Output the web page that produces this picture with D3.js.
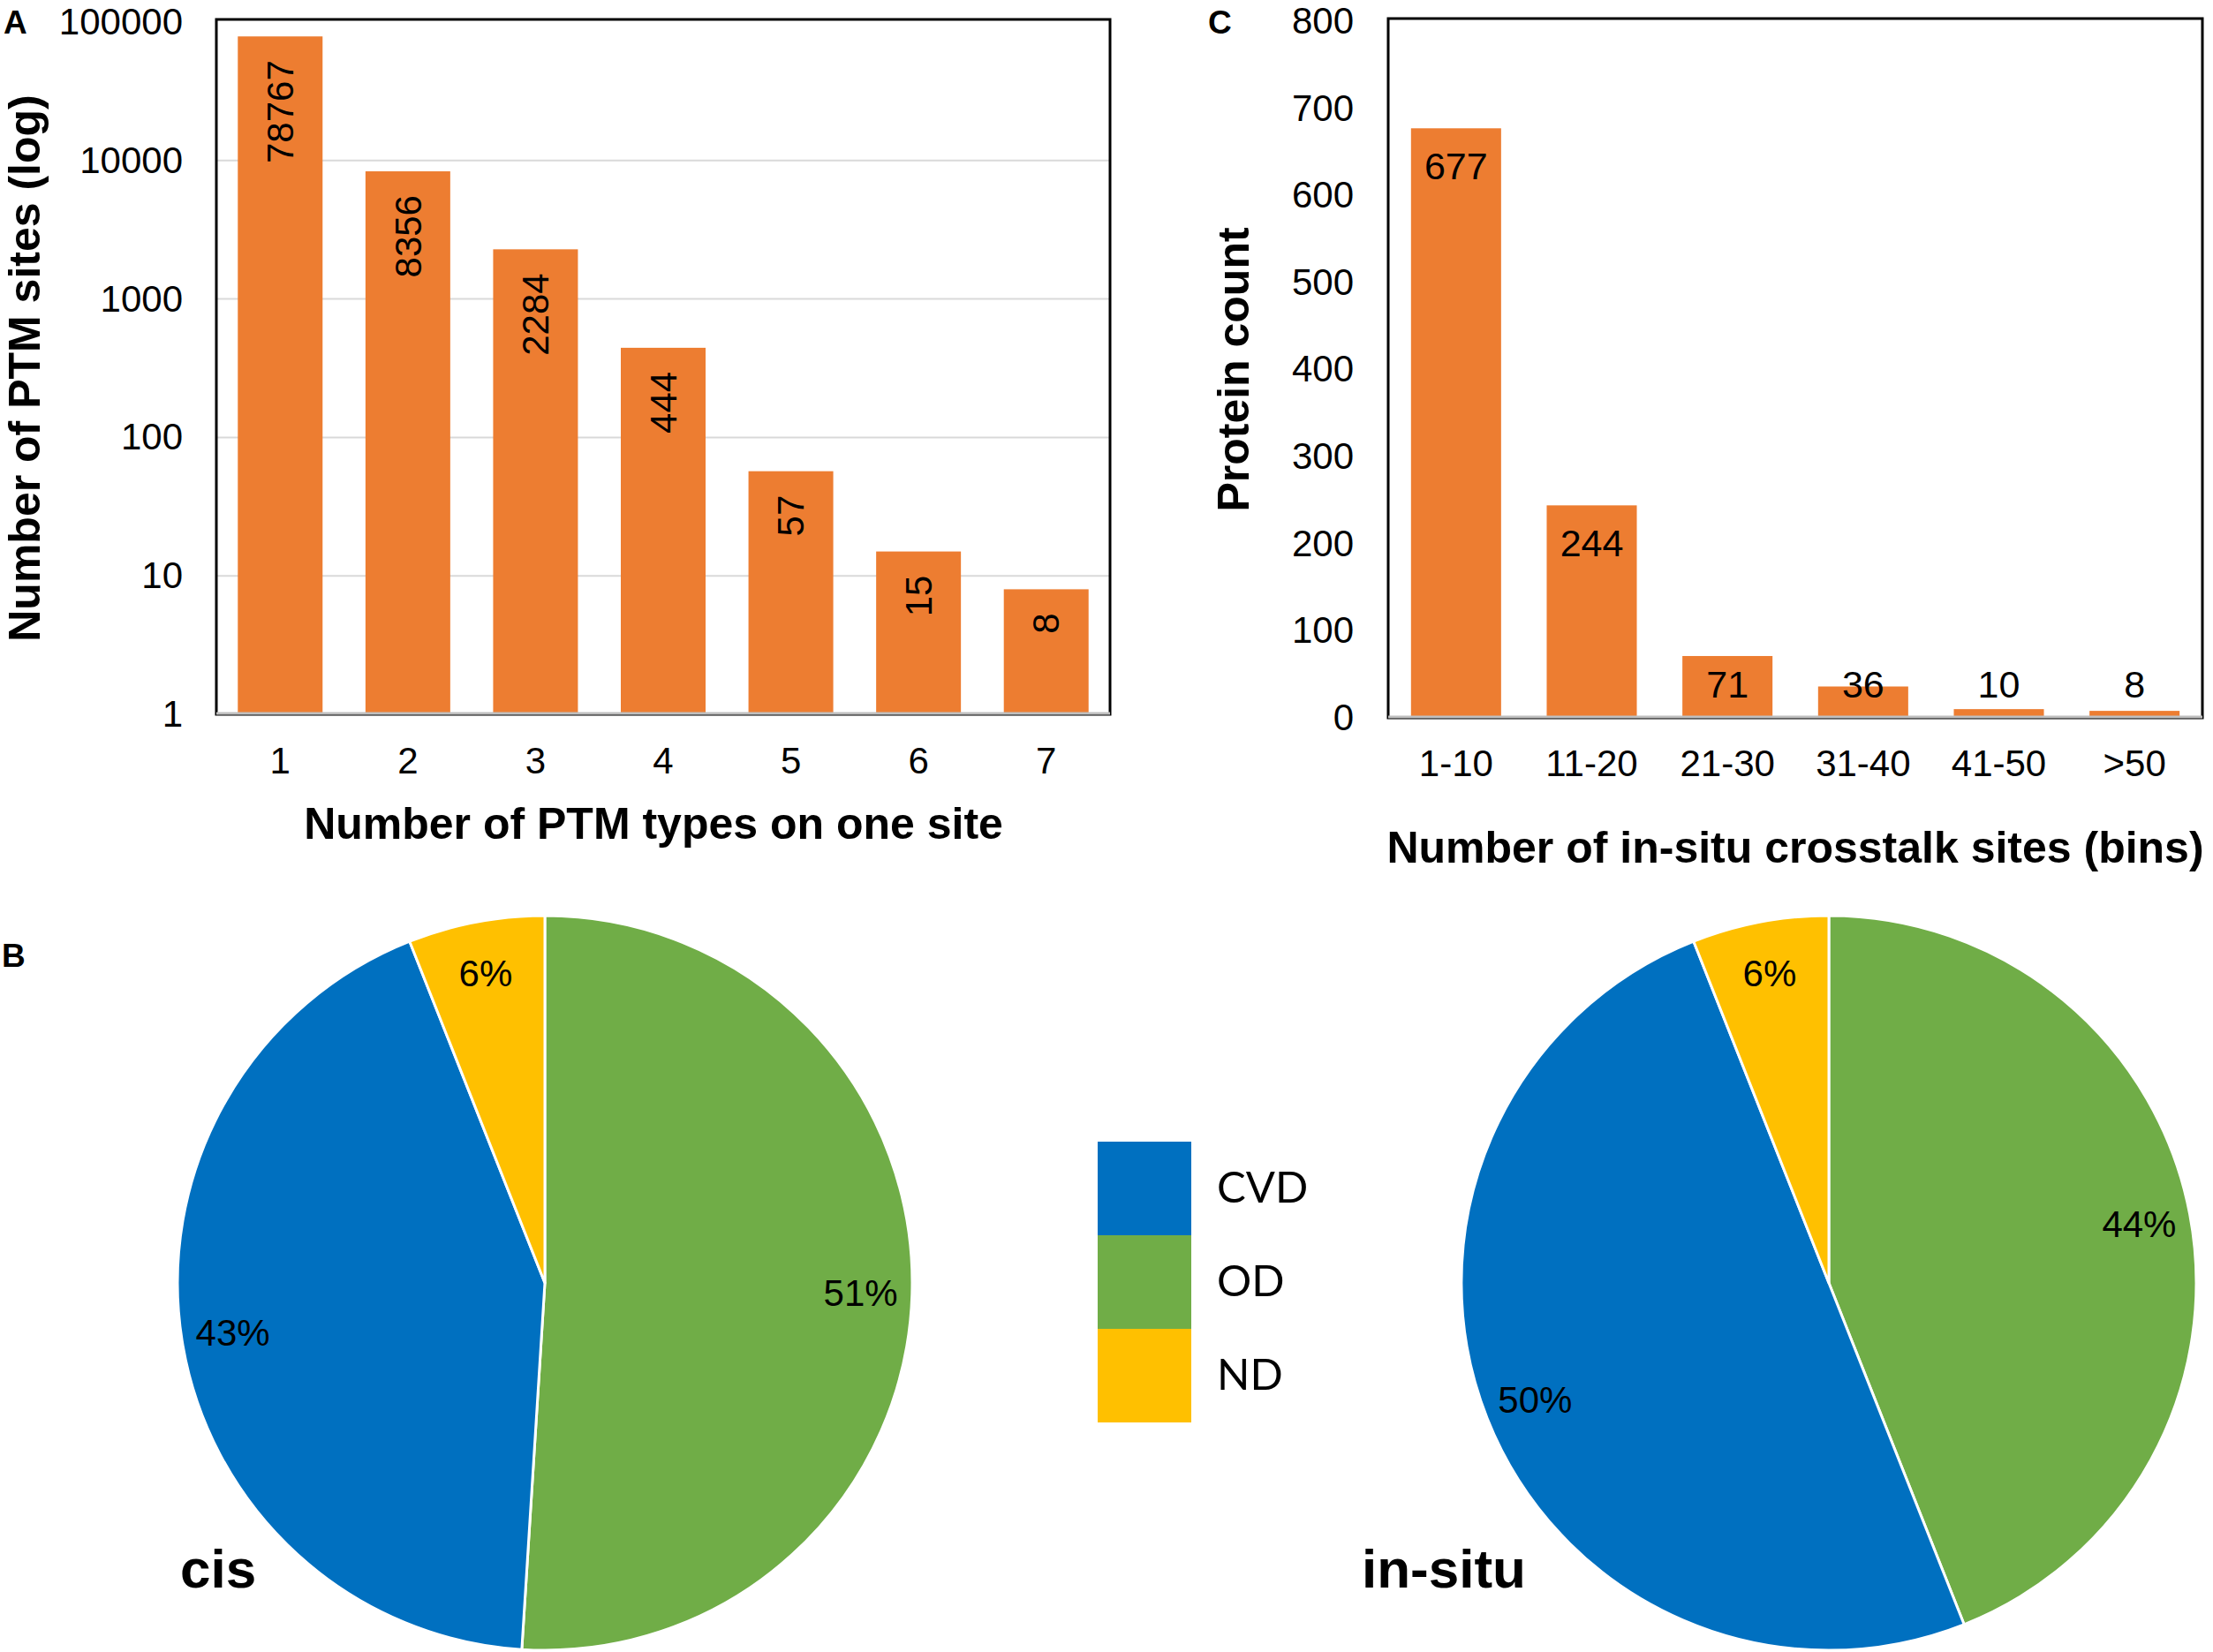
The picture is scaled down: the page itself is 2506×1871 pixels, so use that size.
<!DOCTYPE html>
<html>
<head>
<meta charset="utf-8">
<script src="https://cdn.jsdelivr.net/npm/d3@7"></script>
<style>
  html, body { margin: 0; padding: 0; background: #fff; }
  svg { display: block; }
</style>
</head>
<body>
<div id="chart"></div>
<script>
// Panel A: PTM types per site (log scale)
const ptmTypes = ["1", "2", "3", "4", "5", "6", "7"];
const ptmSites = [78767, 8356, 2284, 444, 57, 15, 8];
const logTicks = [1, 10, 100, 1000, 10000, 100000];

// Panel C: in-situ crosstalk sites per protein
const crosstalkBins = ["1-10", "11-20", "21-30", "31-40", "41-50", ">50"];
const proteinCounts = [677, 244, 71, 36, 10, 8];
const countTicks = [0, 100, 200, 300, 400, 500, 600, 700, 800];

// Panel B: disease share (clockwise from 12 o'clock)
const pieCategories = ["OD", "CVD", "ND"];
const cisShare = [51, 43, 6];
const inSituShare = [44, 50, 6];
const legendOrder = ["CVD", "OD", "ND"];

const width = 2506, height = 1871;
const ARIAL = "'Liberation Sans', Arial, sans-serif";
const orange = "#ED7D31";
const sliceColor = { CVD: "#0070C0", OD: "#70AD47", ND: "#FFC000" };

const svg = d3.select("#chart").append("svg")
    .attr("width", width)
    .attr("height", height)
    .attr("viewBox", `0 0 ${width} ${height}`)
    .style("font-family", ARIAL);

svg.append("rect").attr("width", width).attr("height", height).attr("fill", "#fff");

// panel letters
const letters = [["A", 4, 38], ["C", 1368, 38], ["B", 2, 1095]];
letters.forEach(([t, x, y]) => {
    svg.append("text").attr("x", x).attr("y", y)
        .attr("font-size", 37).attr("font-weight", "bold").text(t);
});

// ---------- Panel A ----------
{
    const left = 245, right = 1257, top = 25, bottom = 809;
    const x = d3.scaleBand().domain(ptmTypes).range([left, right])
        .paddingInner(0.336).paddingOuter(0.168);
    const y = d3.scaleLog().domain([1, 100000]).range([bottom, top]);
    const g = svg.append("g");

    // gridlines
    g.selectAll("line.grid")
        .data(logTicks.filter(d => d > 1 && d < 100000))
        .join("line")
        .attr("x1", left).attr("x2", right)
        .attr("y1", d => y(d)).attr("y2", d => y(d))
        .attr("stroke", "#D9D9D9").attr("stroke-width", 2);

    g.selectAll("rect.bar")
        .data(ptmSites)
        .join("rect")
        .attr("x", (d, i) => x(ptmTypes[i]))
        .attr("y", d => y(d))
        .attr("width", x.bandwidth())
        .attr("height", d => bottom - y(d))
        .attr("fill", orange);

    // value labels, rotated, inside end
    g.selectAll("text.val")
        .data(ptmSites)
        .join("text")
        .attr("transform", (d, i) =>
            `translate(${x(ptmTypes[i]) + x.bandwidth() / 2},${y(d) + 27}) rotate(-90)`)
        .attr("text-anchor", "end")
        .attr("dy", "0.35em")
        .attr("font-size", 42)
        .text(d => d);

    g.append("rect")
        .attr("x", left).attr("y", top - 3)
        .attr("width", right - left).attr("height", bottom - top + 3)
        .attr("fill", "none").attr("stroke", "#000").attr("stroke-width", 3);
    g.append("line")
        .attr("x1", left).attr("x2", right)
        .attr("y1", bottom - 1).attr("y2", bottom - 1)
        .attr("stroke", "#BFBFBF").attr("stroke-width", 3);

    const yAxis = g.append("g")
        .attr("transform", `translate(${left},0)`)
        .call(d3.axisLeft(y).tickValues(logTicks).tickFormat(d3.format("d"))
            .tickSize(0).tickPadding(38));
    yAxis.select(".domain").remove();
    yAxis.selectAll("text").attr("font-size", 42).attr("font-family", ARIAL).attr("fill", "#000");

    const xAxis = g.append("g")
        .attr("transform", `translate(0,${bottom})`)
        .call(d3.axisBottom(x).tickSize(0).tickPadding(37));
    xAxis.select(".domain").remove();
    xAxis.selectAll("text").attr("font-size", 42).attr("font-family", ARIAL).attr("fill", "#000");

    g.append("text")
        .attr("transform", `translate(45,${(top + bottom) / 2}) rotate(-90)`)
        .attr("text-anchor", "middle")
        .attr("font-size", 50).attr("font-weight", "bold")
        .text("Number of PTM sites (log)");

    g.append("text")
        .attr("x", 740).attr("y", 950)
        .attr("text-anchor", "middle")
        .attr("font-size", 50).attr("font-weight", "bold")
        .text("Number of PTM types on one site");
}

// ---------- Panel C ----------
{
    const left = 1572, right = 2494, top = 24, bottom = 813;
    const x = d3.scaleBand().domain(crosstalkBins).range([left, right])
        .paddingInner(0.336).paddingOuter(0.168);
    const y = d3.scaleLinear().domain([0, 800]).range([bottom, top]);
    const g = svg.append("g");

    g.selectAll("rect.bar")
        .data(proteinCounts)
        .join("rect")
        .attr("x", (d, i) => x(crosstalkBins[i]))
        .attr("y", d => y(d))
        .attr("width", x.bandwidth())
        .attr("height", d => bottom - y(d))
        .attr("fill", orange);

    g.selectAll("text.val")
        .data(proteinCounts)
        .join("text")
        .attr("x", (d, i) => x(crosstalkBins[i]) + x.bandwidth() / 2)
        .attr("y", d => Math.min(y(d) + 42, bottom - 38))
        .attr("dy", "0.36em")
        .attr("text-anchor", "middle")
        .attr("font-size", 43)
        .text(d => d);

    g.append("rect")
        .attr("x", left).attr("y", top - 3)
        .attr("width", right - left).attr("height", bottom - top + 3)
        .attr("fill", "none").attr("stroke", "#000").attr("stroke-width", 3);
    g.append("line")
        .attr("x1", left).attr("x2", right)
        .attr("y1", bottom - 1).attr("y2", bottom - 1)
        .attr("stroke", "#BFBFBF").attr("stroke-width", 3);

    const yAxis = g.append("g")
        .attr("transform", `translate(${left},0)`)
        .call(d3.axisLeft(y).tickValues(countTicks).tickSize(0).tickPadding(39));
    yAxis.select(".domain").remove();
    yAxis.selectAll("text").attr("font-size", 42).attr("font-family", ARIAL).attr("fill", "#000");

    const xAxis = g.append("g")
        .attr("transform", `translate(0,${bottom})`)
        .call(d3.axisBottom(x).tickSize(0).tickPadding(36));
    xAxis.select(".domain").remove();
    xAxis.selectAll("text").attr("font-size", 42).attr("font-family", ARIAL).attr("fill", "#000");

    g.append("text")
        .attr("transform", `translate(1414,${(top + bottom) / 2}) rotate(-90)`)
        .attr("text-anchor", "middle")
        .attr("font-size", 50).attr("font-weight", "bold")
        .text("Protein count");

    g.append("text")
        .attr("x", (left + right) / 2).attr("y", 977)
        .attr("text-anchor", "middle")
        .attr("font-size", 50).attr("font-weight", "bold")
        .text("Number of in-situ crosstalk sites (bins)");
}

// ---------- Panel B: pies ----------
function drawPie(cx, cy, r, values, title, titleX) {
    const g = svg.append("g").attr("transform", `translate(${cx},${cy})`);
    const pie = d3.pie().sort(null).value(d => d)(values);
    const arc = d3.arc().innerRadius(0).outerRadius(r);
    const labelArc = d3.arc().innerRadius(r * 0.86).outerRadius(r * 0.86);

    g.selectAll("path")
        .data(pie)
        .join("path")
        .attr("d", arc)
        .attr("fill", (d, i) => sliceColor[pieCategories[i]])
        .attr("stroke", "#fff")
        .attr("stroke-width", 3)
        .attr("stroke-linejoin", "round");

    g.selectAll("text.pct")
        .data(pie)
        .join("text")
        .attr("transform", d => `translate(${labelArc.centroid(d)})`)
        .attr("text-anchor", "middle")
        .attr("dy", "0.36em")
        .attr("font-size", 42)
        .text(d => d.data + "%");

    svg.append("text")
        .attr("x", titleX).attr("y", 1798)
        .attr("font-size", 62).attr("font-weight", "bold")
        .text(title);
}

drawPie(617, 1453, 416, cisShare, "cis", 204);
drawPie(2071, 1453, 416, inSituShare, "in-situ", 1542);

// legend
const legend = svg.append("g").attr("transform", "translate(1243,1293)");
const rowH = 106;
legend.selectAll("rect")
    .data(legendOrder)
    .join("rect")
    .attr("x", 0).attr("y", (d, i) => i * rowH)
    .attr("width", 106).attr("height", rowH)
    .attr("fill", d => sliceColor[d]);
legend.selectAll("text")
    .data(legendOrder)
    .join("text")
    .attr("x", 135).attr("y", (d, i) => i * rowH + rowH / 2 + 16)
    .attr("font-family", "Lato, 'Open Sans', sans-serif")
    .attr("font-size", 49)
    .text(d => d);
</script>
</body>
</html>
